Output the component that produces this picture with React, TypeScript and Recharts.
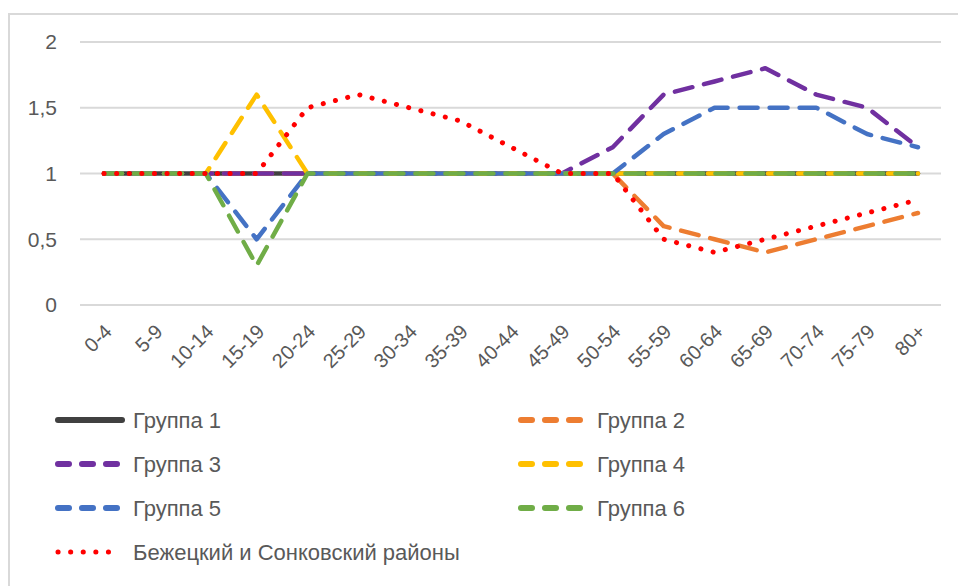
import { LineChart, Line, XAxis, YAxis, CartesianGrid } from "recharts";

const AGES = ["0-4", "5-9", "10-14", "15-19", "20-24", "25-29", "30-34", "35-39", "40-44",
  "45-49", "50-54", "55-59", "60-64", "65-69", "70-74", "75-79", "80+"];
const GROUP_1 = [1, 1, 1, 1, 1, 1, 1, 1, 1, 1, 1, 1, 1, 1, 1, 1, 1];
const GROUP_2 = [1, 1, 1, 1, 1, 1, 1, 1, 1, 1, 1, 0.6, 0.5, 0.4, 0.5, 0.6, 0.7];
const GROUP_3 = [1, 1, 1, 1, 1, 1, 1, 1, 1, 1, 1.2, 1.6, 1.7, 1.8, 1.6, 1.5, 1.2];
const GROUP_4 = [1, 1, 1, 1.6, 1, 1, 1, 1, 1, 1, 1, 1, 1, 1, 1, 1, 1];
const GROUP_5 = [1, 1, 1, 0.5, 1, 1, 1, 1, 1, 1, 1, 1.3, 1.5, 1.5, 1.5, 1.3, 1.2];
const GROUP_6 = [1, 1, 1, 0.3, 1, 1, 1, 1, 1, 1, 1, 1, 1, 1, 1, 1, 1];
const DISTRICT = [1, 1, 1, 1, 1.5, 1.6, 1.5, 1.4, 1.2, 1, 1, 0.5, 0.4, 0.5, 0.6, 0.7, 0.8];
const Y_TICKS = [0, 0.5, 1, 1.5, 2];

const SERIES = [
  { key: "g1", name: "Группа 1", values: GROUP_1, color: "#404040", style: "solid" },
  { key: "g2", name: "Группа 2", values: GROUP_2, color: "#ED7D31", style: "dash" },
  { key: "g3", name: "Группа 3", values: GROUP_3, color: "#7030A0", style: "dash" },
  { key: "g4", name: "Группа 4", values: GROUP_4, color: "#FFC000", style: "dash" },
  { key: "g5", name: "Группа 5", values: GROUP_5, color: "#4472C4", style: "dash" },
  { key: "g6", name: "Группа 6", values: GROUP_6, color: "#70AD47", style: "dash" },
  { key: "bz", name: "Бежецкий и Сонковский районы", values: DISTRICT, color: "#FF0000", style: "dot" },
];

const data = AGES.map((age, i) => {
  const row: Record<string, string | number> = { age };
  SERIES.forEach((s) => { row[s.key] = s.values[i]; });
  return row;
});

const FONT = "'Liberation Sans', Arial, sans-serif";
const TEXT = "#595959";

const dashFor = (style: string) =>
  style === "dash" ? "18 12" : style === "dot" ? "0.1 12.5" : undefined;

function AgeTick({ x, y, payload }: any) {
  const ax = x + 9;
  const ay = y + 28;
  return (
    <text x={ax} y={ay} textAnchor="end" fill={TEXT} fontSize={20} fontFamily={FONT}
      transform={`rotate(-45 ${ax} ${ay})`}>
      {payload.value}
    </text>
  );
}

function LegendBlock() {
  const rows = [
    [SERIES[0], SERIES[1]],
    [SERIES[2], SERIES[3]],
    [SERIES[4], SERIES[5]],
    [SERIES[6]],
  ];
  return (
    <svg width={958} height={180} style={{ position: "absolute", left: 0, top: 400 }}>
      {rows.map((row, r) =>
        row.map((s, c) => {
          const x0 = c === 0 ? 58 : 521;
          const y = 20 + r * 44;
          const dash = s.style === "dash" ? "11 13" : s.style === "dot" ? "0.1 12.5" : undefined;
          return (
            <g key={s.key}>
              <line x1={x0} x2={s.style === "dot" ? 120 : x0 + 64} y1={y} y2={y}
                stroke={s.color} strokeWidth={s.style === "dot" ? 5 : 6}
                strokeDasharray={dash} strokeLinecap="round" />
              <text x={c === 0 ? 133 : 597} y={y} dy="0.35em" fill={TEXT}
                fontSize={22} fontFamily={FONT}>{s.name}</text>
            </g>
          );
        })
      )}
    </svg>
  );
}

export default function App() {
  return (
    <div style={{ position: "relative", width: 958, height: 586, overflow: "hidden", background: "#fff" }}>
      <style>{"body{margin:0;overflow:hidden}"}</style>
      <div style={{
        position: "absolute", left: 8, top: 13, width: 970, height: 600,
        border: "2px solid #d9d9d9", boxSizing: "border-box",
      }} />
      <div style={{ position: "absolute", left: 0, top: 0 }}>
        <LineChart width={958} height={400} data={data}
          margin={{ top: 42, right: 17, left: 0, bottom: 0 }}>
          <CartesianGrid vertical={false} stroke="#d9d9d9" strokeWidth={2} />
          <XAxis dataKey="age" interval={0} axisLine={false} tickLine={false}
            tickSize={0} tickMargin={0} height={95} padding={{ left: 24, right: 23 }}
            tick={<AgeTick />} />
          <YAxis domain={[0, 2]} ticks={Y_TICKS} width={80} axisLine={false} tickLine={false}
            tickSize={0} tickMargin={23}
            tickFormatter={(v: number) => String(v).replace(".", ",")}
            tick={{ fill: TEXT, fontSize: 21, fontFamily: FONT }} />
          {SERIES.map((s) => (
            <Line key={s.key} dataKey={s.key} name={s.name} type="linear"
              stroke={s.color} strokeWidth={s.style === "dot" ? 5 : 4.5}
              strokeDasharray={dashFor(s.style)} strokeLinecap="round" strokeLinejoin="round"
              dot={false} activeDot={false} isAnimationActive={false} />
          ))}
        </LineChart>
      </div>
      <LegendBlock />
    </div>
  );
}
